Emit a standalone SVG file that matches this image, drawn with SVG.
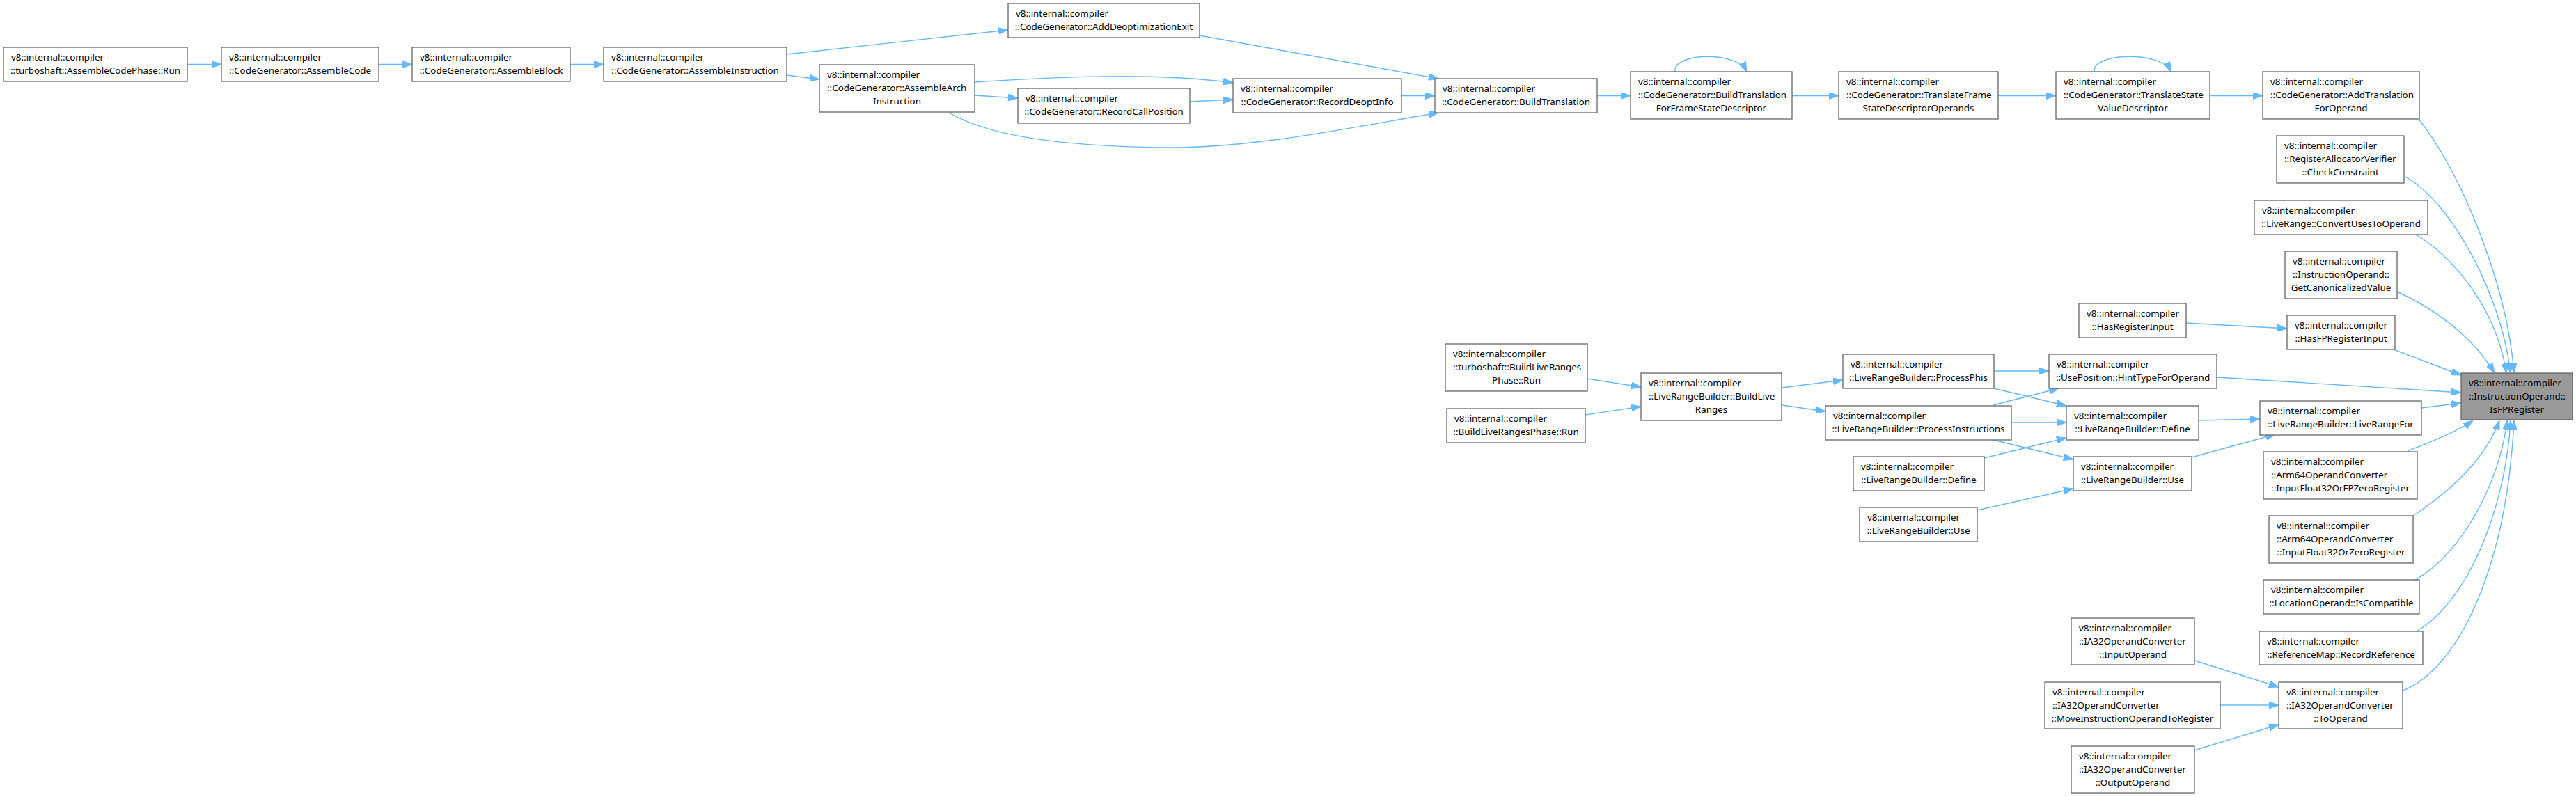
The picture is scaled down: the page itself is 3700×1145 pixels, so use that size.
<svg xmlns="http://www.w3.org/2000/svg" width="3700" height="1145" viewBox="0 0 3700 1145">
<style>
.box{fill:#ffffff;stroke:#666666;stroke-width:1.3}
.hl{fill:#999999;stroke:#666666;stroke-width:1.3}
text{font-family:"Noto Sans","DejaVu Sans",sans-serif;font-size:13.4px;fill:#000000}
.c{text-anchor:middle}
.e{fill:none;stroke:#63b8ff;stroke-width:1.4;marker-end:url(#ah)}
</style>
<defs>
<marker id="ah" markerUnits="userSpaceOnUse" viewBox="0 0 14 10" refX="14" refY="5" markerWidth="14" markerHeight="10" orient="auto">
<path d="M0,0 L14,5 L0,10 z" fill="#63b8ff" stroke="#63b8ff" stroke-width="1"/>
</marker>
</defs>
<rect width="3700" height="1145" fill="#ffffff"/>
<g id="edges">
<path class="e" d="M269,92.5 L318,92.5"/>
<path class="e" d="M544,92.5 L592,92.5"/>
<path class="e" d="M819,92.5 L867,92.5"/>
<path class="e" d="M1130,78 L1448,43"/>
<path class="e" d="M1130,108 L1177,114"/>
<path class="e" d="M1400,137 L1462,141"/>
<path class="e" d="M1400,118 C1520,110 1660,104 1771,119"/>
<path class="e" d="M1363,162 C1420,195 1520,210 1672,212 C1800,213 1930,185 2066,162"/>
<path class="e" d="M1723,51 L2066,113"/>
<path class="e" d="M1709,146 L1771,143"/>
<path class="e" d="M2013,137.5 L2061,137.5"/>
<path class="e" d="M2294,137.5 L2342,137.5"/>
<path class="e" d="M2406,103 C2402,76 2494,72 2509,103"/>
<path class="e" d="M2574,137.5 L2641,137.5"/>
<path class="e" d="M2870,137.5 L2953,137.5"/>
<path class="e" d="M3008,103 C3004,76 3104,72 3118,103"/>
<path class="e" d="M3174,137.5 L3250,137.5"/>
<path class="e" d="M3474,171 C3530,240 3600,400 3611,536"/>
<path class="e" d="M3455,254 C3520,290 3592,420 3606,536"/>
<path class="e" d="M3468,336 C3520,365 3585,440 3600,536"/>
<path class="e" d="M3443,419 C3490,440 3550,480 3583,536"/>
<path class="e" d="M3140,464 L3285,472"/>
<path class="e" d="M3438,502 L3535,539"/>
<path class="e" d="M3184,542 L3535,564"/>
<path class="e" d="M3478,586 L3535,579"/>
<path class="e" d="M3458,648 C3490,635 3530,620 3552,604"/>
<path class="e" d="M3466,741 C3520,705 3570,660 3590,604"/>
<path class="e" d="M3469,833 C3530,800 3590,700 3601,604"/>
<path class="e" d="M3471,907 C3550,860 3600,720 3606,604"/>
<path class="e" d="M3452,992 C3530,960 3600,820 3611,604"/>
<path class="e" d="M2280,544 L2357,556"/>
<path class="e" d="M2277,596 L2357,584"/>
<path class="e" d="M2559,557 L2647,546"/>
<path class="e" d="M2559,582 L2622,591"/>
<path class="e" d="M2864,533 L2943,533"/>
<path class="e" d="M2864,558 L2968,583"/>
<path class="e" d="M2863,582 L2957,558"/>
<path class="e" d="M2889,607 L2968,607"/>
<path class="e" d="M2863,632 L2978,660"/>
<path class="e" d="M2850,658 L2968,629"/>
<path class="e" d="M2840,733 L2978,702"/>
<path class="e" d="M3158,604 L3246,602"/>
<path class="e" d="M3148,657 L3268,624"/>
<path class="e" d="M3152,949 L3273,987"/>
<path class="e" d="M3189,1013 L3273,1013"/>
<path class="e" d="M3152,1078 L3273,1041"/>
</g>
<g id="n1"><rect class="box" x="5" y="68" width="264" height="49"/><text x="16" y="86.5">v8::internal::compiler</text><text class="c" x="137" y="105.5">::turboshaft::AssembleCodePhase::Run</text></g>
<g id="n2"><rect class="box" x="318" y="68" width="226" height="49"/><text x="329" y="86.5">v8::internal::compiler</text><text class="c" x="431" y="105.5">::CodeGenerator::AssembleCode</text></g>
<g id="n3"><rect class="box" x="592" y="68" width="227" height="49"/><text x="603" y="86.5">v8::internal::compiler</text><text class="c" x="705.5" y="105.5">::CodeGenerator::AssembleBlock</text></g>
<g id="n4"><rect class="box" x="867" y="68" width="263" height="49"/><text x="878" y="86.5">v8::internal::compiler</text><text class="c" x="998.5" y="105.5">::CodeGenerator::AssembleInstruction</text></g>
<g id="n5"><rect class="box" x="1177" y="93" width="223" height="68"/><text x="1188" y="111.5">v8::internal::compiler</text><text x="1188" y="130.5">::CodeGenerator::AssembleArch</text><text class="c" x="1288.5" y="149.5">Instruction</text></g>
<g id="n6"><rect class="box" x="1448" y="5" width="275" height="49"/><text x="1459" y="23.5">v8::internal::compiler</text><text class="c" x="1585.5" y="42.5">::CodeGenerator::AddDeoptimizationExit</text></g>
<g id="n7"><rect class="box" x="1462" y="127" width="247" height="50"/><text x="1473" y="145.5">v8::internal::compiler</text><text class="c" x="1585.5" y="164.5">::CodeGenerator::RecordCallPosition</text></g>
<g id="n8"><rect class="box" x="1771" y="113" width="242" height="49"/><text x="1782" y="131.5">v8::internal::compiler</text><text class="c" x="1892" y="150.5">::CodeGenerator::RecordDeoptInfo</text></g>
<g id="n9"><rect class="box" x="2061" y="113" width="233" height="49"/><text x="2072" y="131.5">v8::internal::compiler</text><text class="c" x="2177.5" y="150.5">::CodeGenerator::BuildTranslation</text></g>
<g id="n10"><rect class="box" x="2342" y="103" width="232" height="68"/><text x="2353" y="121.5">v8::internal::compiler</text><text x="2353" y="140.5">::CodeGenerator::BuildTranslation</text><text class="c" x="2458" y="159.5">ForFrameStateDescriptor</text></g>
<g id="n11"><rect class="box" x="2641" y="103" width="229" height="68"/><text x="2652" y="121.5">v8::internal::compiler</text><text x="2652" y="140.5">::CodeGenerator::TranslateFrame</text><text class="c" x="2755.5" y="159.5">StateDescriptorOperands</text></g>
<g id="n12"><rect class="box" x="2953" y="103" width="221" height="68"/><text x="2964" y="121.5">v8::internal::compiler</text><text x="2964" y="140.5">::CodeGenerator::TranslateState</text><text class="c" x="3063.5" y="159.5">ValueDescriptor</text></g>
<g id="n13"><rect class="box" x="3250" y="103" width="225" height="68"/><text x="3261" y="121.5">v8::internal::compiler</text><text x="3261" y="140.5">::CodeGenerator::AddTranslation</text><text class="c" x="3362.5" y="159.5">ForOperand</text></g>
<g id="n14"><rect class="box" x="3270" y="195" width="183" height="68"/><text x="3281" y="213.5">v8::internal::compiler</text><text x="3281" y="232.5">::RegisterAllocatorVerifier</text><text class="c" x="3361.5" y="251.5">::CheckConstraint</text></g>
<g id="n15"><rect class="box" x="3238" y="288" width="249" height="49"/><text x="3249" y="306.5">v8::internal::compiler</text><text class="c" x="3362.5" y="325.5">::LiveRange::ConvertUsesToOperand</text></g>
<g id="n16"><rect class="box" x="3282" y="361" width="161" height="68"/><text x="3293" y="379.5">v8::internal::compiler</text><text x="3293" y="398.5">::InstructionOperand::</text><text class="c" x="3362.5" y="417.5">GetCanonicalizedValue</text></g>
<g id="n17"><rect class="box" x="2986" y="436" width="154" height="49"/><text x="2997" y="454.5">v8::internal::compiler</text><text class="c" x="3063" y="473.5">::HasRegisterInput</text></g>
<g id="n18"><rect class="box" x="3285" y="453" width="155" height="49"/><text x="3296" y="471.5">v8::internal::compiler</text><text class="c" x="3362.5" y="490.5">::HasFPRegisterInput</text></g>
<g id="n19"><rect class="hl" x="3535" y="536" width="160" height="67"/><text x="3546" y="554.5">v8::internal::compiler</text><text x="3546" y="573.5">::InstructionOperand::</text><text class="c" x="3615" y="592.5">IsFPRegister</text></g>
<g id="n20"><rect class="box" x="2076" y="494" width="204" height="68"/><text x="2087" y="512.5">v8::internal::compiler</text><text x="2087" y="531.5">::turboshaft::BuildLiveRanges</text><text class="c" x="2178" y="550.5">Phase::Run</text></g>
<g id="n21"><rect class="box" x="2078" y="587" width="199" height="49"/><text x="2089" y="605.5">v8::internal::compiler</text><text class="c" x="2177.5" y="624.5">::BuildLiveRangesPhase::Run</text></g>
<g id="n22"><rect class="box" x="2357" y="536" width="202" height="68"/><text x="2368" y="554.5">v8::internal::compiler</text><text x="2368" y="573.5">::LiveRangeBuilder::BuildLive</text><text class="c" x="2458" y="592.5">Ranges</text></g>
<g id="n23"><rect class="box" x="2647" y="509" width="217" height="49"/><text x="2658" y="527.5">v8::internal::compiler</text><text class="c" x="2755.5" y="546.5">::LiveRangeBuilder::ProcessPhis</text></g>
<g id="n24"><rect class="box" x="2622" y="583" width="267" height="49"/><text x="2633" y="601.5">v8::internal::compiler</text><text class="c" x="2755.5" y="620.5">::LiveRangeBuilder::ProcessInstructions</text></g>
<g id="n25"><rect class="box" x="2943" y="509" width="241" height="49"/><text x="2954" y="527.5">v8::internal::compiler</text><text class="c" x="3063.5" y="546.5">::UsePosition::HintTypeForOperand</text></g>
<g id="n26"><rect class="box" x="2968" y="583" width="190" height="49"/><text x="2979" y="601.5">v8::internal::compiler</text><text class="c" x="3063" y="620.5">::LiveRangeBuilder::Define</text></g>
<g id="n27"><rect class="box" x="2662" y="656" width="188" height="49"/><text x="2673" y="674.5">v8::internal::compiler</text><text class="c" x="2756" y="693.5">::LiveRangeBuilder::Define</text></g>
<g id="n28"><rect class="box" x="2978" y="656" width="170" height="49"/><text x="2989" y="674.5">v8::internal::compiler</text><text class="c" x="3063" y="693.5">::LiveRangeBuilder::Use</text></g>
<g id="n29"><rect class="box" x="2671" y="729" width="169" height="49"/><text x="2682" y="747.5">v8::internal::compiler</text><text class="c" x="2755.5" y="766.5">::LiveRangeBuilder::Use</text></g>
<g id="n30"><rect class="box" x="3246" y="576" width="232" height="49"/><text x="3257" y="594.5">v8::internal::compiler</text><text class="c" x="3362" y="613.5">::LiveRangeBuilder::LiveRangeFor</text></g>
<g id="n31"><rect class="box" x="3251" y="649" width="221" height="68"/><text x="3262" y="667.5">v8::internal::compiler</text><text x="3262" y="686.5">::Arm64OperandConverter</text><text class="c" x="3361.5" y="705.5">::InputFloat32OrFPZeroRegister</text></g>
<g id="n32"><rect class="box" x="3259" y="741" width="207" height="68"/><text x="3270" y="759.5">v8::internal::compiler</text><text x="3270" y="778.5">::Arm64OperandConverter</text><text class="c" x="3362.5" y="797.5">::InputFloat32OrZeroRegister</text></g>
<g id="n33"><rect class="box" x="3251" y="833" width="224" height="49"/><text x="3262" y="851.5">v8::internal::compiler</text><text class="c" x="3363" y="870.5">::LocationOperand::IsCompatible</text></g>
<g id="n34"><rect class="box" x="3245" y="907" width="235" height="48"/><text x="3256" y="925.5">v8::internal::compiler</text><text class="c" x="3362.5" y="944.5">::ReferenceMap::RecordReference</text></g>
<g id="n35"><rect class="box" x="2975" y="888" width="177" height="67"/><text x="2986" y="906.5">v8::internal::compiler</text><text x="2986" y="925.5">::IA32OperandConverter</text><text class="c" x="3063.5" y="944.5">::InputOperand</text></g>
<g id="n36"><rect class="box" x="2937" y="980" width="252" height="67"/><text x="2948" y="998.5">v8::internal::compiler</text><text x="2948" y="1017.5">::IA32OperandConverter</text><text class="c" x="3063" y="1036.5">::MoveInstructionOperandToRegister</text></g>
<g id="n37"><rect class="box" x="3273" y="980" width="178" height="67"/><text x="3284" y="998.5">v8::internal::compiler</text><text x="3284" y="1017.5">::IA32OperandConverter</text><text class="c" x="3362" y="1036.5">::ToOperand</text></g>
<g id="n38"><rect class="box" x="2975" y="1072" width="177" height="67"/><text x="2986" y="1090.5">v8::internal::compiler</text><text x="2986" y="1109.5">::IA32OperandConverter</text><text class="c" x="3063.5" y="1128.5">::OutputOperand</text></g>
</svg>
